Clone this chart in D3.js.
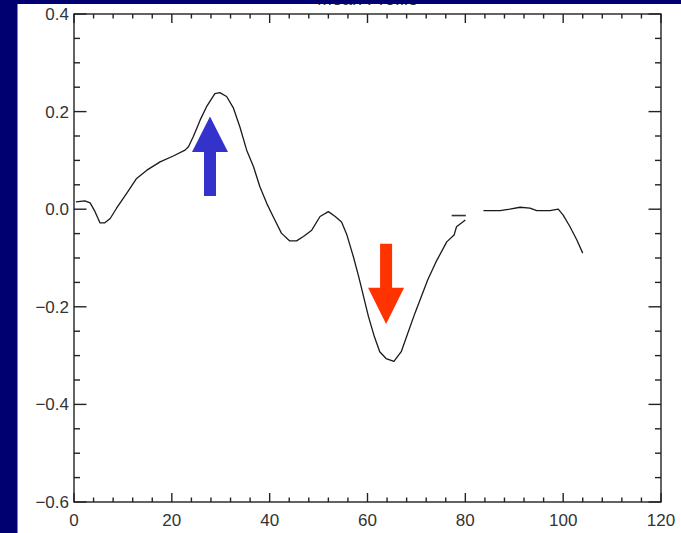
<!DOCTYPE html>
<html>
<head>
<meta charset="utf-8">
<script src="https://cdn.jsdelivr.net/npm/d3@7"></script>
<style>
  html, body { margin: 0; padding: 0; background: #000070; }
  svg { display: block; }
</style>
</head>
<body>
<svg id="chart" width="681" height="533"></svg>
<script>
// Profile samples (x position, value); null marks the gap in the trace
const profileX = [0.4, 2.2, 3.3, 4.3, 5.3, 6.3, 7.4, 8.7, 10.8, 12.8, 14.9, 17.6, 20.3, 22.7, 23.4,
  24.4, 25.8, 27.1, 28.8, 29.8, 31.2, 32.6, 33.9, 35.3, 36.7, 38.0, 39.4, 40.7, 42.4, 44.1,
  45.5, 46.9, 48.6, 50.3, 52.0, 53.4, 54.7, 55.8, 57.1, 58.2, 59.2, 60.2, 61.4, 62.5, 63.8,
  65.4, 66.9, 68.0, 69.7, 72.3, 74.0, 76.2, 77.7, 78.2, 80.0, 82.0,
  83.7, 87.1, 89.1, 91.2, 93.2, 94.6, 97.3, 99.0, 100.0, 101.4, 102.8, 104.0];
const profileY = [0.015, 0.017, 0.013, -0.005, -0.028, -0.028, -0.019, 0.002, 0.033, 0.063, 0.080,
  0.097, 0.109, 0.121, 0.128, 0.149, 0.183, 0.210, 0.237, 0.239, 0.231, 0.207, 0.169, 0.121,
  0.087, 0.046, 0.012, -0.015, -0.049, -0.065, -0.065, -0.056, -0.043, -0.015, -0.005, -0.015,
  -0.026, -0.053, -0.097, -0.138, -0.179, -0.220, -0.261, -0.292, -0.306, -0.312, -0.292,
  -0.261, -0.213, -0.145, -0.108, -0.067, -0.053, -0.036, -0.022, null,
  -0.003, -0.003, 0.000, 0.004, 0.002, -0.003, -0.003, 0.000, -0.012, -0.036, -0.063, -0.090];

// Short level segment drawn beside the gap
const markX = [77.2, 80.1];
const markY = [-0.013, -0.013];

// Arrow annotations: x position, tail value, head-base value, tip value
const arrowUp = { x: 27.8, tail: 0.027, base: 0.117, tip: 0.190 };
const arrowDown = { x: 63.8, tail: -0.071, base: -0.161, tip: -0.235 };

const xDomain = [0, 120];
const yDomain = [-0.6, 0.4];
const xMajor = [0, 20, 40, 60, 80, 100, 120];
const yMajor = [-0.6, -0.4, -0.2, 0.0, 0.2, 0.4];
const xMinor = d3.range(0, 120.01, 4);
const yMinor = d3.range(-0.6, 0.4001, 0.05);
const titleText = "Mean Profile";

const svg = d3.select("#chart");
const W = 681, H = 533;
const mLeft = 74, mRight = 661, mTop = 14, mBottom = 502;

// page background and white panel
svg.append("rect").attr("x", 0).attr("y", 0).attr("width", W).attr("height", H).attr("fill", "#000070");
svg.append("rect").attr("x", 17.5).attr("y", 0).attr("width", W - 17.5).attr("height", H).attr("fill", "#ffffff");

const x = d3.scaleLinear().domain(xDomain).range([mLeft, mRight]);
const y = d3.scaleLinear().domain(yDomain).range([mBottom, mTop]);

const axisColor = "#222";
const font = "Liberation Sans, Arial, Helvetica, sans-serif";

// title (partly under the top band)
svg.append("text").attr("x", (mLeft + mRight) / 2).attr("y", 5)
  .attr("text-anchor", "middle").attr("font-family", font).attr("font-size", 18)
  .attr("fill", "#333").text(titleText);
svg.append("rect").attr("x", 0).attr("y", 0).attr("width", W).attr("height", 4).attr("fill", "#000070");

const ax = svg.append("g").attr("stroke", axisColor).attr("stroke-width", 1.4).attr("fill", "none");
// frame
ax.append("rect").attr("x", mLeft).attr("y", mTop).attr("width", mRight - mLeft).attr("height", mBottom - mTop);

const isMajorX = v => xMajor.some(m => Math.abs(m - v) < 1e-6);
const isMajorY = v => yMajor.some(m => Math.abs(m - v) < 1e-6);

// x ticks on bottom and top, pointing inward
xMinor.forEach(v => {
  const len = isMajorX(v) ? 9 : 4.5;
  ax.append("line").attr("x1", x(v)).attr("x2", x(v)).attr("y1", mBottom).attr("y2", mBottom - len);
  ax.append("line").attr("x1", x(v)).attr("x2", x(v)).attr("y1", mTop).attr("y2", mTop + len);
});
// y ticks on left and right, pointing inward
yMinor.forEach(v => {
  const len = isMajorY(v) ? 12.5 : 6;
  ax.append("line").attr("y1", y(v)).attr("y2", y(v)).attr("x1", mLeft).attr("x2", mLeft + len);
  ax.append("line").attr("y1", y(v)).attr("y2", y(v)).attr("x1", mRight).attr("x2", mRight - len);
});

// tick labels
svg.append("g").selectAll("text").data(xMajor).join("text")
  .attr("x", d => x(d)).attr("y", mBottom + 24)
  .attr("text-anchor", "middle").attr("font-family", font).attr("font-size", 17)
  .attr("fill", "#333").text(d => d3.format("d")(d));

svg.append("g").selectAll("text").data(yMajor).join("text")
  .attr("x", mLeft - 5).attr("y", d => y(d) + 6)
  .attr("text-anchor", "end").attr("font-family", font).attr("font-size", 17)
  .attr("fill", "#333").text(d => d3.format(".1f")(d).replace("-", "\u2212"));

// profile trace
const pts = profileX.map((v, i) => [v, profileY[i]]);
const line = d3.line().defined(d => d[1] !== null).x(d => x(d[0])).y(d => y(d[1]));
svg.append("path").datum(pts).attr("d", line)
  .attr("fill", "none").attr("stroke", "#1a1a1a").attr("stroke-width", 1.3).attr("stroke-linejoin", "round");

svg.append("path").datum(markX.map((v, i) => [v, markY[i]])).attr("d", line)
  .attr("fill", "none").attr("stroke", "#333").attr("stroke-width", 1.6);

// arrows
function arrow(a, color) {
  const cx = x(a.x), hs = 6, hh = 18;
  const poly = [
    [cx - hs, y(a.tail)], [cx - hs, y(a.base)], [cx - hh, y(a.base)],
    [cx, y(a.tip)],
    [cx + hh, y(a.base)], [cx + hs, y(a.base)], [cx + hs, y(a.tail)]
  ];
  svg.append("polygon").attr("points", poly.map(p => p.join(",")).join(" ")).attr("fill", color);
}
arrow(arrowUp, "#3333cc");
arrow(arrowDown, "#ff3300");
</script>
</body>
</html>
